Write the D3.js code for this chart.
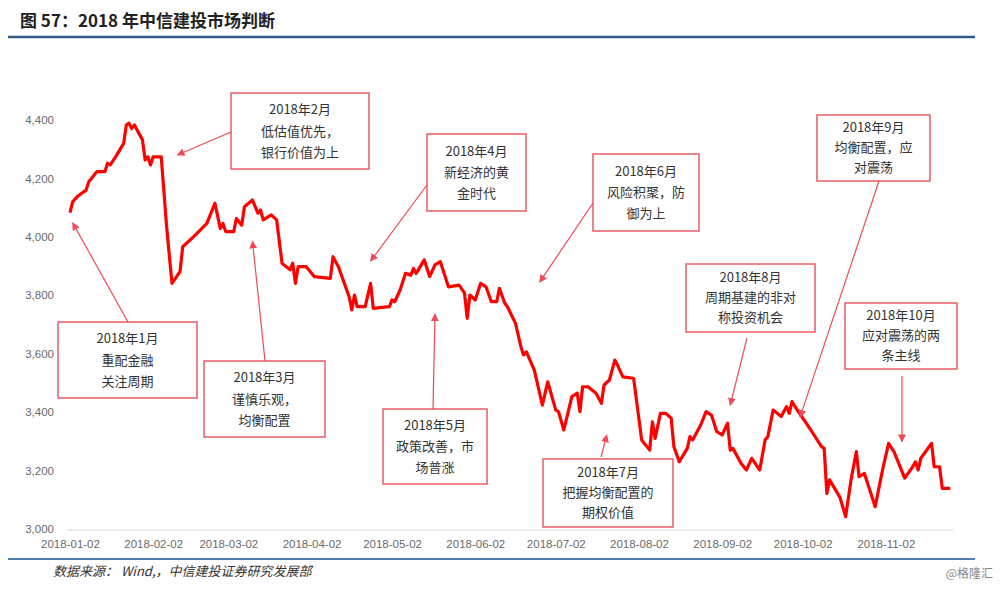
<!DOCTYPE html>
<html><head><meta charset="utf-8">
<script src="https://cdn.jsdelivr.net/npm/d3@7"></script>
<style>
html,body{margin:0;padding:0;background:#fff;}
svg{display:block;}
</style></head>
<body>
<svg id="chart" width="1000" height="591"></svg>
<script>
// ---- data ----
const dates = ["2018-01-02","2018-01-03","2018-01-05","2018-01-08","2018-01-09","2018-01-11","2018-01-12","2018-01-15","2018-01-16","2018-01-17","2018-01-19","2018-01-22","2018-01-23","2018-01-24","2018-01-25","2018-01-26","2018-01-29","2018-01-30","2018-01-31","2018-02-01","2018-02-02","2018-02-05","2018-02-07","2018-02-09","2018-02-12","2018-02-13","2018-02-17","2018-02-22","2018-02-25","2018-02-27","2018-02-28","2018-03-01","2018-03-04","2018-03-05","2018-03-07","2018-03-08","2018-03-11","2018-03-13","2018-03-14","2018-03-15","2018-03-18","2018-03-20","2018-03-22","2018-03-25","2018-03-26","2018-03-27","2018-03-28","2018-03-31","2018-04-03","2018-04-09","2018-04-10","2018-04-12","2018-04-16","2018-04-17","2018-04-18","2018-04-19","2018-04-22","2018-04-24","2018-04-25","2018-05-01","2018-05-02","2018-05-03","2018-05-05","2018-05-07","2018-05-09","2018-05-10","2018-05-11","2018-05-14","2018-05-16","2018-05-18","2018-05-20","2018-05-23","2018-05-27","2018-05-29","2018-05-30","2018-05-31","2018-06-02","2018-06-04","2018-06-06","2018-06-08","2018-06-10","2018-06-11","2018-06-13","2018-06-14","2018-06-17","2018-06-19","2018-06-20","2018-06-21","2018-06-24","2018-06-27","2018-06-29","2018-07-02","2018-07-03","2018-07-05","2018-07-08","2018-07-10","2018-07-11","2018-07-12","2018-07-14","2018-07-17","2018-07-19","2018-07-20","2018-07-22","2018-07-24","2018-07-25","2018-07-27","2018-07-31","2018-08-03","2018-08-06","2018-08-07","2018-08-08","2018-08-10","2018-08-12","2018-08-14","2018-08-15","2018-08-17","2018-08-20","2018-08-21","2018-08-22","2018-08-25","2018-08-27","2018-08-29","2018-08-31","2018-09-02","2018-09-04","2018-09-05","2018-09-06","2018-09-09","2018-09-11","2018-09-13","2018-09-16","2018-09-18","2018-09-19","2018-09-21","2018-09-24","2018-09-26","2018-09-27","2018-09-28","2018-09-30","2018-10-05","2018-10-09","2018-10-10","2018-10-11","2018-10-12","2018-10-15","2018-10-16","2018-10-18","2018-10-20","2018-10-22","2018-10-23","2018-10-25","2018-10-29","2018-10-31","2018-11-01","2018-11-03","2018-11-05","2018-11-09","2018-11-12","2018-11-13","2018-11-14","2018-11-15","2018-11-19","2018-11-20","2018-11-22","2018-11-23","2018-11-26"];
const values = [4083,4120,4140,4160,4189,4212,4223,4223,4252,4246,4274,4320,4383,4389,4371,4383,4332,4263,4274,4246,4274,4274,4035,3841,3881,3966,4000,4046,4115,4029,4046,4018,4018,4063,4040,4103,4126,4081,4092,4058,4075,4058,3910,3887,3910,3841,3898,3898,3864,3858,3932,3898,3795,3750,3801,3761,3761,3841,3755,3761,3784,3778,3818,3875,3869,3892,3875,3921,3864,3904,3915,3829,3835,3807,3721,3801,3784,3841,3829,3778,3778,3824,3773,3761,3704,3624,3596,3607,3544,3424,3504,3407,3402,3339,3453,3465,3402,3487,3487,3465,3430,3493,3510,3578,3561,3521,3516,3305,3270,3367,3310,3396,3396,3379,3282,3230,3276,3316,3305,3356,3402,3390,3333,3322,3362,3270,3276,3225,3202,3242,3202,3305,3316,3407,3385,3419,3396,3436,3407,3339,3282,3276,3122,3168,3122,3105,3042,3168,3265,3179,3190,3076,3168,3213,3293,3265,3174,3213,3230,3202,3242,3293,3213,3213,3139,3139];
const xTickLabels = ["2018-01-02","2018-02-02","2018-03-02","2018-04-02","2018-05-02","2018-06-02","2018-07-02","2018-08-02","2018-09-02","2018-10-02","2018-11-02"];
const yTicks = [3000,3200,3400,3600,3800,4000,4200,4400];
// annotation text lines
const noteLines = [
  ["2018年1月","重配金融","关注周期"],
  ["2018年2月","低估值优先，","银行价值为上"],
  ["2018年3月","谨慎乐观，","均衡配置"],
  ["2018年4月","新经济的黄","金时代"],
  ["2018年5月","政策改善，市","场普涨"],
  ["2018年6月","风险积聚，防","御为上"],
  ["2018年7月","把握均衡配置的","期权价值"],
  ["2018年8月","周期基建的非对","称投资机会"],
  ["2018年9月","均衡配置，应","对震荡"],
  ["2018年10月","应对震荡的两","条主线"]
];
// annotation arrow targets (date, value) on the chart
const noteTargets = [
  ["2018-01-03",4048],["2018-02-11",4280],["2018-03-11",3985],["2018-04-24",3917],["2018-05-18",3736],
  ["2018-06-26",3845],["2018-07-21",3322],["2018-09-05",3424],["2018-10-01",3383],["2018-11-08",3299]
];

// ---- layout (positions only) ----
const boxes = [ // x, y, w, h
  [58,322,139,76],[231,93,138,76],[204,361,121,76],[427,134,99,77],[383,409,104,75],
  [593,154,106,77],[543,459,130,68],[686,264,129,68],[817,115,113,66],[845,303,112,66]
];
const arrowFrom = [
  [128,322],[231,132],[265,361],[427,185],[433,409],
  [593,203],[601,457],[747,338],[879,181],[902,376]
];

const svg = d3.select("#chart");
const parse = d3.utcParse("%Y-%m-%d");
const x = d3.scaleUtc().domain([parse("2018-01-01"), parse("2018-11-27")]).range([67.3, 953]);
const y = d3.scaleLinear().domain([3000, 4400]).range([529, 120]);

// title
svg.append("text").attr("x", 20).attr("y", 27)
  .attr("font-family", "'Noto Sans CJK SC', sans-serif").attr("font-weight", "bold")
  .attr("font-size", 17).attr("fill", "#222").text("图 57：2018 年中信建投市场判断");
svg.append("line").attr("x1", 8).attr("x2", 975).attr("y1", 37).attr("y2", 37)
  .attr("stroke", "#2f5b86").attr("stroke-width", 2.5);

// y axis labels
const yAxis = d3.axisLeft(y).tickValues(yTicks).tickFormat(d3.format(",")).tickSize(0).tickPadding(0);
const gy = svg.append("g").attr("transform", "translate(54,0)").call(yAxis);
gy.select(".domain").remove();
gy.selectAll("text").attr("font-family", "'Liberation Sans', Arial, sans-serif").attr("font-size", 11.5).attr("fill", "#6a6a6a");

// x axis
const xAxis = d3.axisBottom(x).tickValues(xTickLabels.map(parse)).tickFormat(d3.utcFormat("%Y-%m-%d")).tickSize(0).tickPadding(10).tickSizeOuter(0);
const gx = svg.append("g").attr("transform", "translate(0,529.5)").call(xAxis);
gx.select(".domain").attr("stroke", "#d9d9d9").attr("stroke-width", 1.2);
gx.selectAll("text").attr("font-family", "'Liberation Sans', Arial, sans-serif").attr("font-size", 11.5).attr("fill", "#6a6a6a");

// line
const pts = dates.map((d, i) => ({ d: parse(d), v: values[i] }));
svg.append("path").datum(pts)
  .attr("fill", "none").attr("stroke", "#ff0000").attr("stroke-width", 3.2)
  .attr("stroke-linejoin", "round")
  .attr("d", d3.line().x(p => x(p.d)).y(p => y(p.v)));

// arrow marker
const defs = svg.append("defs");
defs.append("marker").attr("id", "ah").attr("viewBox", "0 0 10 10").attr("refX", 9).attr("refY", 5)
  .attr("markerWidth", 8).attr("markerHeight", 8).attr("markerUnits", "userSpaceOnUse").attr("orient", "auto")
  .append("path").attr("d", "M0,0 L10,5 L0,10 Z").attr("fill", "#ee4b55");

// annotations
const noteColor = "#e9656f";
noteLines.forEach((lines, i) => {
  const [bx, by, bw, bh] = boxes[i];
  const g = svg.append("g");
  g.append("rect").attr("x", bx).attr("y", by).attr("width", bw).attr("height", bh)
    .attr("fill", "#fff").attr("stroke", noteColor).attr("stroke-width", 1.6);
  const lh = bh > 70 ? 21.3 : 20;
  const top = by + (bh - lh * 3) / 2 + lh * 0.72;
  lines.forEach((t, j) => {
    g.append("text").attr("x", bx + bw / 2).attr("y", top + j * lh)
      .attr("text-anchor", "middle").attr("font-family", "'Noto Sans CJK SC', sans-serif")
      .attr("font-size", 13).attr("fill", "#333").text(t);
  });
  const [tx, tv] = noteTargets[i];
  svg.append("line").attr("x1", arrowFrom[i][0]).attr("y1", arrowFrom[i][1])
    .attr("x2", x(parse(tx))).attr("y2", y(tv))
    .attr("stroke", "#ee4b55").attr("stroke-width", 1.2).attr("marker-end", "url(#ah)");
});

// footer
svg.append("line").attr("x1", 8).attr("x2", 975).attr("y1", 559).attr("y2", 559)
  .attr("stroke", "#4f7ead").attr("stroke-width", 2);
svg.append("text").attr("x", 53).attr("y", 576)
  .attr("font-family", "'Noto Sans CJK SC', sans-serif").attr("font-style", "italic")
  .attr("font-size", 13).attr("fill", "#333").text("数据来源： Wind,，中信建投证券研究发展部");
svg.append("text").attr("x", 993).attr("y", 578).attr("text-anchor", "end")
  .attr("font-family", "'Noto Sans CJK SC', sans-serif")
  .attr("font-size", 12).attr("fill", "#8a8a8a").text("@格隆汇");
</script>
</body></html>
